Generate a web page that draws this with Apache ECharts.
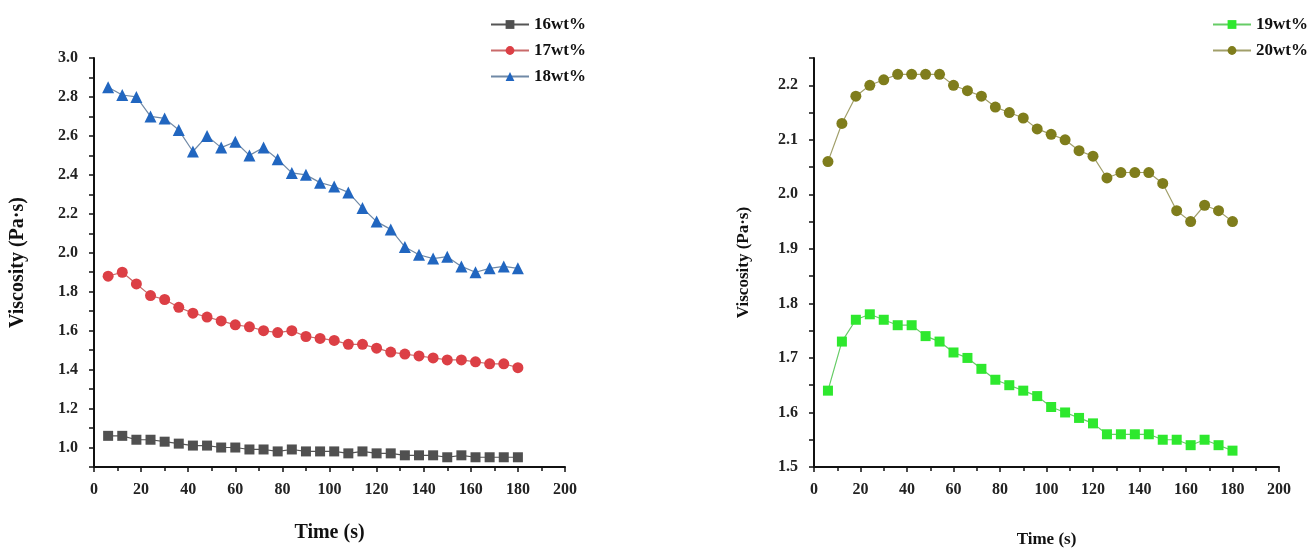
<!DOCTYPE html>
<html>
<head>
<meta charset="utf-8">
<script src="https://cdn.jsdelivr.net/npm/echarts@6/dist/echarts.min.js"></script>
<style>
  html, body { margin: 0; padding: 0; background: #fff; }
  #chart { width: 1312px; height: 549px; }
</style>
</head>
<body>
<div id="chart"></div>
<script>
// Sampling times (s)
const time = [6, 12, 18, 24, 30, 36, 42, 48, 54, 60, 66, 72, 78, 84, 90, 96, 102, 108, 114, 120, 126, 132, 138, 144, 150, 156, 162, 168, 174, 180];

// Viscosity (Pa·s) per concentration
const v16 = [1.06, 1.06, 1.04, 1.04, 1.03, 1.02, 1.01, 1.01, 1.00, 1.00, 0.99, 0.99, 0.98, 0.99, 0.98, 0.98, 0.98, 0.97, 0.98, 0.97, 0.97, 0.96, 0.96, 0.96, 0.95, 0.96, 0.95, 0.95, 0.95, 0.95];
const v17 = [1.88, 1.90, 1.84, 1.78, 1.76, 1.72, 1.69, 1.67, 1.65, 1.63, 1.62, 1.60, 1.59, 1.60, 1.57, 1.56, 1.55, 1.53, 1.53, 1.51, 1.49, 1.48, 1.47, 1.46, 1.45, 1.45, 1.44, 1.43, 1.43, 1.41];
const v18 = [2.85, 2.81, 2.80, 2.70, 2.69, 2.63, 2.52, 2.60, 2.54, 2.57, 2.50, 2.54, 2.48, 2.41, 2.40, 2.36, 2.34, 2.31, 2.23, 2.16, 2.12, 2.03, 1.99, 1.97, 1.98, 1.93, 1.90, 1.92, 1.93, 1.92];
const v19 = [1.64, 1.73, 1.77, 1.78, 1.77, 1.76, 1.76, 1.74, 1.73, 1.71, 1.70, 1.68, 1.66, 1.65, 1.64, 1.63, 1.61, 1.60, 1.59, 1.58, 1.56, 1.56, 1.56, 1.56, 1.55, 1.55, 1.54, 1.55, 1.54, 1.53];
const v20 = [2.06, 2.13, 2.18, 2.20, 2.21, 2.22, 2.22, 2.22, 2.22, 2.20, 2.19, 2.18, 2.16, 2.15, 2.14, 2.12, 2.11, 2.10, 2.08, 2.07, 2.03, 2.04, 2.04, 2.04, 2.02, 1.97, 1.95, 1.98, 1.97, 1.95];

const seriesNames = ['16wt%', '17wt%', '18wt%', '19wt%', '20wt%'];
const xTitle = 'Time (s)';
const yTitle = 'Viscosity (Pa·s)';

const FONT = '"Liberation Serif", "Times New Roman", serif';
const pairs = vals => time.map((t, i) => [t, vals[i]]);

function xAxis(gridIndex, nameSize, nameGap) {
  return {
    type: 'value', gridIndex, min: 0, max: 200, interval: 20,
    name: xTitle, nameLocation: 'middle', nameGap,
    nameTextStyle: { fontFamily: FONT, fontWeight: 'bold', fontSize: nameSize, color: '#111' },
    axisLine: { onZero: false, lineStyle: { color: '#111', width: 2 } },
    axisTick: { show: true, length: 5, lineStyle: { color: '#111', width: 1.5 } },
    minorTick: { show: true, splitNumber: 2, length: 4, lineStyle: { color: '#111', width: 1.5 } },
    splitLine: { show: false },
    axisLabel: { fontFamily: FONT, fontWeight: 'bold', fontSize: 16, color: '#222', margin: 15 }
  };
}

function yAxis(gridIndex, min, max, step, labelStep, nameSize, nameGap) {
  return {
    type: 'value', gridIndex, min, max, interval: step,
    name: yTitle, nameLocation: 'middle', nameGap,
    nameTextStyle: { fontFamily: FONT, fontWeight: 'bold', fontSize: nameSize, color: '#111' },
    axisLine: { onZero: false, lineStyle: { color: '#111', width: 2 } },
    axisTick: { show: true, length: 5, lineStyle: { color: '#111', width: 1.5 } },
    splitLine: { show: false },
    axisLabel: {
      fontFamily: FONT, fontWeight: 'bold', fontSize: 16, color: '#222', margin: 16,
      formatter: v => (Math.round(v * 100) % labelStep === 0 ? v.toFixed(1) : '')
    }
  };
}

function line(name, vals, axisIdx, color, lineColor, symbol, size) {
  return {
    name, type: 'line', xAxisIndex: axisIdx, yAxisIndex: axisIdx,
    data: pairs(vals),
    symbol, symbolSize: size,
    itemStyle: { color },
    lineStyle: { color: lineColor, width: 1.2 },
    emphasis: { disabled: true },
    animation: false
  };
}

const legendText = { fontFamily: FONT, fontWeight: 'bold', fontSize: 17, color: '#111' };

const chart = echarts.init(document.getElementById('chart'), null, { renderer: 'canvas' });
chart.setOption({
  backgroundColor: '#fff',
  animation: false,
  grid: [
    { left: 94, top: 58, width: 471, height: 409, outerBoundsMode: 'none' },
    { left: 814, top: 58, width: 465, height: 409, outerBoundsMode: 'none' }
  ],
  xAxis: [xAxis(0, 20, 56), xAxis(1, 17, 64)],
  yAxis: [yAxis(0, 0.9, 3.0, 0.1, 20, 20, 66), yAxis(1, 1.5, 2.25, 0.05, 10, 17, 62)],
  legend: [
    {
      data: seriesNames.slice(0, 3), orient: 'vertical', left: 485, top: 11,
      itemWidth: 38, itemHeight: 11, itemGap: 9, textStyle: legendText
    },
    {
      data: seriesNames.slice(3), orient: 'vertical', left: 1207, top: 11,
      itemWidth: 38, itemHeight: 11, itemGap: 9, textStyle: legendText
    }
  ],
  series: [
    line(seriesNames[0], v16, 0, '#505050', '#555555', 'rect', 10),
    line(seriesNames[1], v17, 0, '#dc3f45', '#c96a6a', 'circle', 11),
    line(seriesNames[2], v18, 0, '#2166c0', '#7089a6', 'triangle', 12),
    line(seriesNames[3], v19, 1, '#2ee82e', '#66cc66', 'rect', 10),
    line(seriesNames[4], v20, 1, '#7f7d1c', '#a19f6a', 'circle', 11)
  ]
});
</script>
</body>
</html>
